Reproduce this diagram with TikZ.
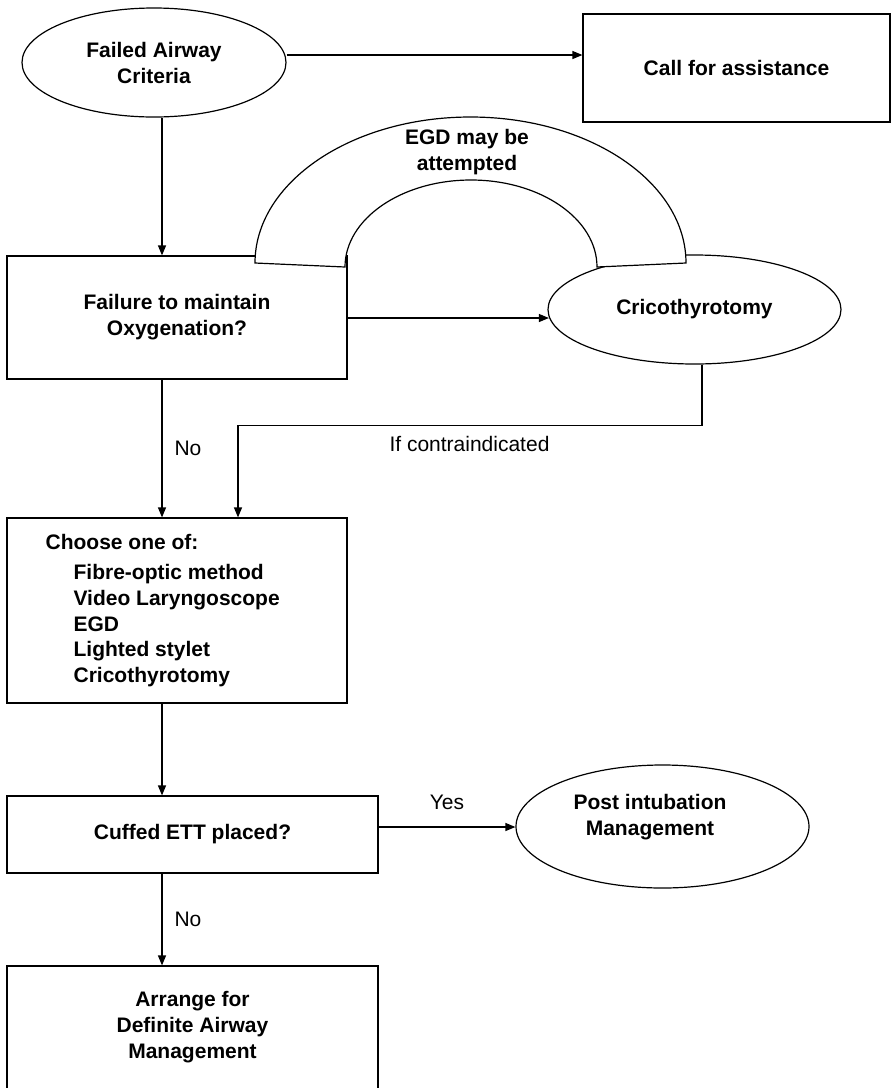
\documentclass[tikz,border=0pt]{standalone}
\usepackage{fontspec}
\setmainfont{Liberation Sans}
\usetikzlibrary{shapes.geometric,arrows.meta,calc}
\newcommand\diafont{\fontsize{21}{26}\selectfont}
\begin{document}
\begin{tikzpicture}[x=1pt,y=-1pt,line width=1.2pt,
  box/.style={draw,rectangle,inner sep=0pt,align=center,font=\bfseries\diafont},
  oval/.style={draw,ellipse,inner sep=0pt,align=center,font=\bfseries\diafont},
  btxt/.style={inner sep=0pt,align=center,font=\bfseries\diafont},
  ltxt/.style={inner sep=0pt,anchor=base west,font=\bfseries\diafont},
  lbl/.style={inner sep=0pt,font=\diafont},
  arr/.style={-{Triangle[length=10pt,width=8pt]}}]
\useasboundingbox (0,0) rectangle (892,1088);
\clip (0,0) rectangle (892,1088);

% helper coordinates
\coordinate (spine) at (162,0);
\coordinate (y55) at (0,55);
\coordinate (y318) at (0,318);
\coordinate (y425) at (0,425.5);
\coordinate (y827) at (0,827);
\coordinate (c702) at (702,0);
\coordinate (c238) at (238,0);

% nodes
\node[oval,minimum width=264pt,minimum height=109pt] (fam) at (154,62.5) {Failed Airway\\Criteria};
\node[box,minimum width=307pt,minimum height=108pt] (call) at (736.5,68) {Call for assistance};
\node[box,minimum width=340pt,minimum height=123pt] (fail) at (177,317.5) {Failure to maintain\\Oxygenation?};
\node[oval,minimum width=293pt,minimum height=109pt] (cric) at (694.5,309.5) {Cricothyrotomy};
\node[box,minimum width=340pt,minimum height=185pt] (choose) at (177,610.5) {};
\node[ltxt] (ch0) at (45,549.5) {Choose one of:};
\node[ltxt] (ch1) at (73,579.5) {Fibre-optic method};
\node[ltxt] (ch2) at (73,605.3) {Video Laryngoscope};
\node[ltxt] (ch3) at (73,631.1) {EGD};
\node[ltxt] (ch4) at (73,656.9) {Lighted stylet};
\node[ltxt] (ch5) at (73,682.7) {Cricothyrotomy};
\node[box,minimum width=371pt,minimum height=77pt] (cuff) at (192.5,834.5) {Cuffed ETT placed?};
\node[oval,minimum width=293pt,minimum height=123pt] (post) at (662.5,826.5) {};
\node[btxt] (posttxt) at (650,817) {Post intubation\\Management};
\node[box,minimum width=371pt,minimum height=130pt] (arrange) at (192.5,1031) {};
\node[btxt] (arrtxt) at (192.5,1027.5) {Arrange for\\Definite Airway\\Management};

% arch
\draw[fill=white] (255,263) arc[start angle=180,end angle=0,x radius=215.5pt,y radius=146pt]
  -- (597,267) arc[start angle=0,end angle=180,x radius=126pt,y radius=87pt] -- cycle;
\node[btxt] (egd) at (467,152) {EGD may be\\attempted};

% connectors
\draw[arr] (fam.east |- y55) -- (call.west |- y55);
\draw[arr] (fam.south -| spine) -- (fail.north -| spine);
\draw[arr] (fail.east |- y318) -- ($(cric.west |- y318)+(1.5,0)$);
\draw[arr] (cric.south -| c702) -- (c702 |- y425) -| (choose.north -| c238);
\draw[arr] (fail.south -| spine) -- (choose.north -| spine);
\draw[arr] (choose.south -| spine) -- (cuff.north -| spine);
\draw[arr] (cuff.east |- y827) -- (post.west |- y827);
\draw[arr] (cuff.south -| spine) -- (arrange.north -| spine);

% labels
\node[lbl] (no1) at (188,448) {No};
\node[lbl] (ifc) at (469.5,444) {If contraindicated};
\node[lbl] (yes) at (447,802) {Yes};
\node[lbl] (no2) at (188,919) {No};
\end{tikzpicture}
\end{document}
